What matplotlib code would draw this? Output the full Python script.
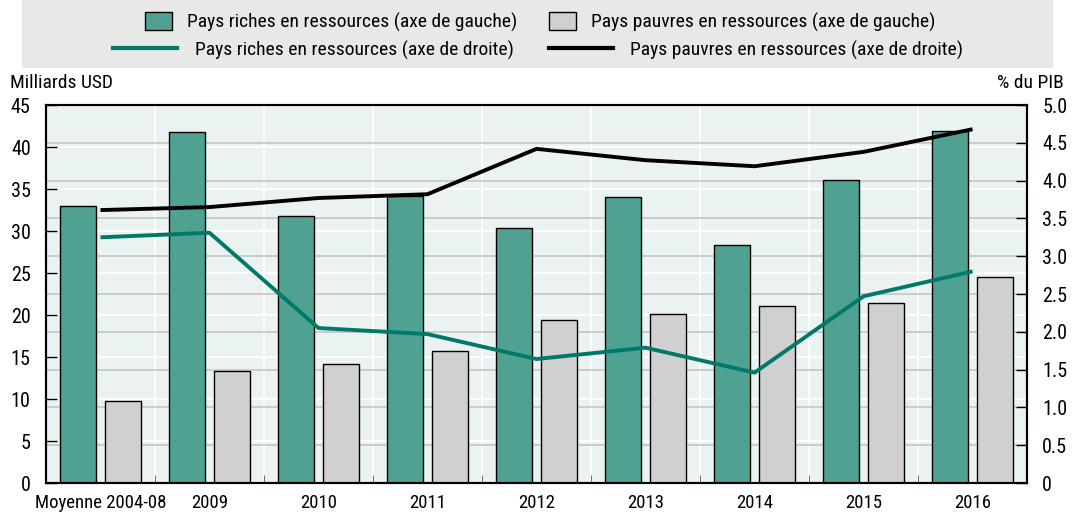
import matplotlib.pyplot as plt
import numpy as np
from matplotlib.patches import Patch, Rectangle
from matplotlib.lines import Line2D

plt.rcParams['font.family'] = ['Roboto Condensed', 'DejaVu Sans']

categories = ["Moyenne 2004-08", "2009", "2010", "2011", "2012", "2013", "2014", "2015", "2016"]
rich_bars = [33.0, 41.8, 31.8, 34.2, 30.4, 34.0, 28.3, 36.1, 41.9]
poor_bars = [9.8, 13.3, 14.2, 15.7, 19.4, 20.1, 21.1, 21.4, 24.5]
rich_line = [3.25, 3.31, 2.05, 1.97, 1.64, 1.79, 1.46, 2.47, 2.80]
poor_line = [3.61, 3.65, 3.77, 3.82, 4.42, 4.27, 4.19, 4.38, 4.68]

teal = "#4fa191"
grey = "#d0d0d0"
teal_line = "#00796a"

fig = plt.figure(figsize=(10.74, 5.15), dpi=100)
ax = fig.add_axes([0.0428, 0.0621, 0.9135, 0.7340])
ax2 = ax.twinx()
ax.set_zorder(1)
ax2.set_zorder(2)
ax2.patch.set_visible(False)
ax.set_facecolor("#eaf3f2")

x = np.arange(len(categories))
w = 0.33
off = 0.206

# grid lines: white at left ticks, grey at right ticks
for v in np.arange(5, 45, 5):
    ax.axhline(v, color="white", lw=1.3, zorder=0.5)
for v in np.arange(0.5, 5.0, 0.5):
    ax.axhline(v * 9, color="#c8c8c8", lw=1.3, zorder=0.6)
for b in np.arange(0.5, 8.5, 1):
    ax.axvline(b, color="white", lw=1.3, zorder=0.5)

ax.bar(x - off, rich_bars, w, color=teal, edgecolor="black", lw=1, zorder=2)
ax.bar(x + off, poor_bars, w, color=grey, edgecolor="black", lw=1, zorder=2)

ax2.plot(x, poor_line, color="black", lw=2.8, solid_capstyle="butt")
ax2.plot(x, rich_line, color=teal_line, lw=2.8, solid_capstyle="butt")

ax.set_xlim(-0.5, 8.5)
ax.set_ylim(0, 45)
ax2.set_ylim(0, 5)
ax.set_yticks(np.arange(0, 46, 5))
ax2.set_yticks(np.arange(0, 5.01, 0.5))
ax2.set_yticklabels(["0"] + [f"{v:.1f}" for v in np.arange(0.5, 5.01, 0.5)])
ax.set_xticks(x)
ax.set_xticklabels(categories)
ax.set_xticks(np.arange(0.5, 8.5, 1), minor=True)

ax.tick_params(axis="x", which="major", length=0, labelsize=13.5, pad=8)
ax.tick_params(axis="x", which="minor", direction="in", length=6, color="#555555")
ax.tick_params(axis="y", direction="in", length=8, width=1, labelsize=14.5, pad=11)
ax2.tick_params(axis="y", direction="in", length=8, width=1, labelsize=14.5, pad=11)

for a in (ax, ax2):
    for s in a.spines.values():
        s.set_linewidth(1.5)
        s.set_color("black")

fig.text(0.009, 0.838, "Milliards USD", fontsize=14, va="center", ha="left")
fig.text(0.990, 0.838, "% du PIB", fontsize=14, va="center", ha="right")

# legend box
fig.patches.append(Rectangle((0.0205, 0.868), 0.960, 0.132, transform=fig.transFigure,
                             facecolor="#e8e8e8", edgecolor="none", zorder=0))
row1 = [Patch(facecolor=teal, edgecolor="black", lw=1),
        Patch(facecolor=grey, edgecolor="black", lw=1)]
row2 = [Line2D([], [], color=teal_line, lw=3), Line2D([], [], color="black", lw=3)]
leg1 = fig.legend(row1, ["Pays riches en ressources (axe de gauche)", "Pays pauvres en ressources (axe de gauche)"],
                  loc="center", bbox_to_anchor=(0.503, 0.958), ncol=2, frameon=False,
                  fontsize=14, handlelength=1.4, handleheight=1.1, columnspacing=1.6, handletextpad=0.8)
leg2 = fig.legend(row2, ["Pays riches en ressources (axe de droite)", "Pays pauvres en ressources (axe de droite)"],
                  loc="center", bbox_to_anchor=(0.501, 0.903), ncol=2, frameon=False,
                  fontsize=14, handlelength=3.3, columnspacing=1.8, handletextpad=0.9)

fig.savefig("out.png", dpi=100)
